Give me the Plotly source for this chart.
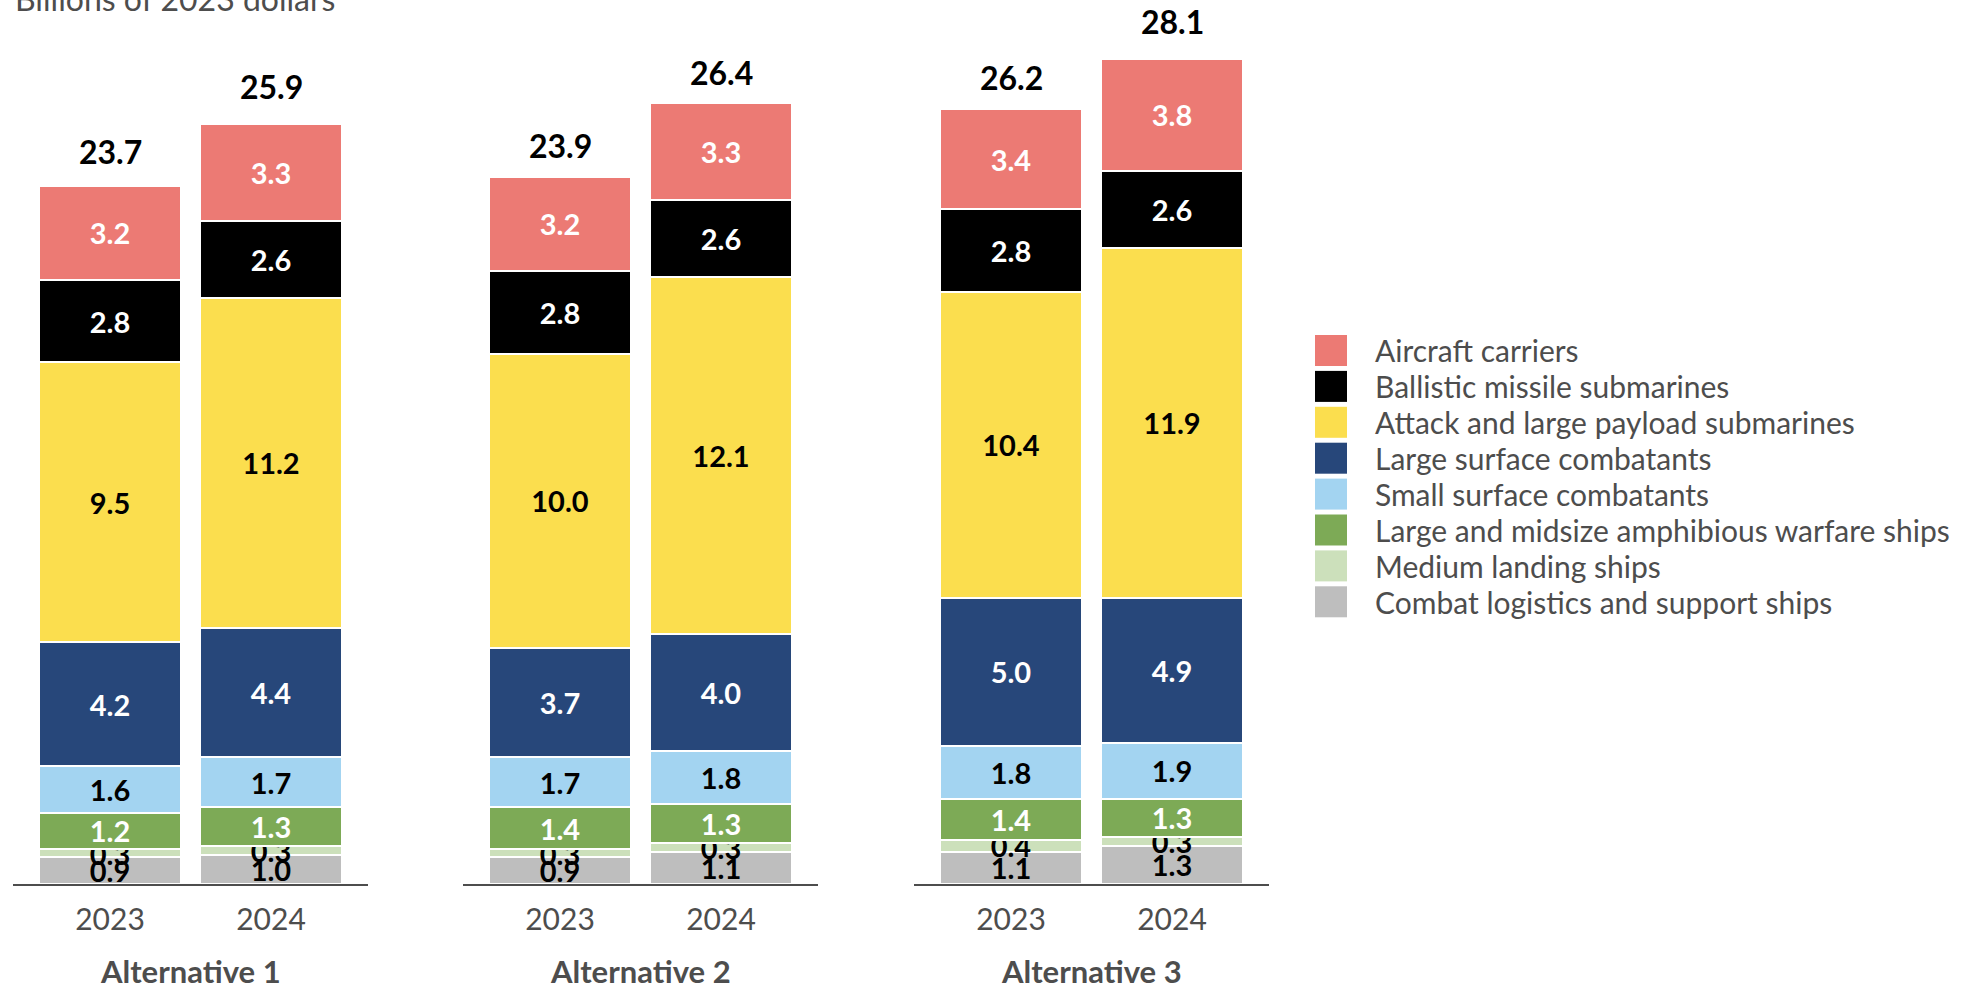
import plotly.graph_objects as go

# ---------------- data ----------------
years = ["2023", "2024"]
alternatives = ["Alternative 1", "Alternative 2", "Alternative 3"]

# stack order bottom -> top
categories = [
    "Combat logistics and support ships",
    "Medium landing ships",
    "Large and midsize amphibious warfare ships",
    "Small surface combatants",
    "Large surface combatants",
    "Attack and large payload submarines",
    "Ballistic missile submarines",
    "Aircraft carriers",
]

# values ordered: Alt1 2023, Alt1 2024, Alt2 2023, Alt2 2024, Alt3 2023, Alt3 2024
logistics = [0.9, 1.0, 0.9, 1.1, 1.1, 1.3]
medium_landing = [0.3, 0.3, 0.3, 0.3, 0.4, 0.3]
amphibious = [1.2, 1.3, 1.4, 1.3, 1.4, 1.3]
small_surface = [1.6, 1.7, 1.7, 1.8, 1.8, 1.9]
large_surface = [4.2, 4.4, 3.7, 4.0, 5.0, 4.9]
attack_subs = [9.5, 11.2, 10.0, 12.1, 10.4, 11.9]
ballistic_subs = [2.8, 2.6, 2.8, 2.6, 2.8, 2.6]
carriers = [3.2, 3.3, 3.2, 3.3, 3.4, 3.8]

totals = [23.7, 25.9, 23.9, 26.4, 26.2, 28.1]

series = [logistics, medium_landing, amphibious, small_surface,
          large_surface, attack_subs, ballistic_subs, carriers]

colors = ["#BEBEBE", "#CCE0BB", "#7DAA56", "#A3D4F1",
          "#27477A", "#FBDE4E", "#000000", "#EC7A74"]
text_colors = ["#000000", "#000000", "#FFFFFF", "#000000",
               "#FFFFFF", "#000000", "#FFFFFF", "#FFFFFF"]

# ---------------- layout constants ----------------
W, H = 1972, 990
MB = 106
PLOT_H = H - MB
FONT = "Lato, 'Open Sans', Roboto, sans-serif"
GREY = "#4d4d4d"

domains_px = [(13, 368), (463, 818), (914, 1269)]

fig = go.Figure()

for a in range(len(alternatives)):
    ax = "" if a == 0 else str(a + 1)
    for c, vals in enumerate(series):
        yv = vals[2 * a:2 * a + 2]
        fig.add_trace(go.Bar(
            x=years, y=yv, name=categories[c],
            xaxis="x" + ax, yaxis="y" + ax,
            marker=dict(color=colors[c], line=dict(color="white", width=2)),
            texttemplate="%{y:.1f}", textposition="inside",
            insidetextanchor="middle",
            textfont=dict(family=FONT, size=29, color=text_colors[c], weight=700),
            showlegend=False, hoverinfo="skip",
        ))
    for j in range(len(years)):
        fig.add_annotation(
            x=j, y=totals[2 * a + j], xref="x" + ax, yref="y" + ax,
            text=f"{totals[2 * a + j]:.1f}", showarrow=False,
            yanchor="middle", yshift=34,
            font=dict(family=FONT, size=32, color="#000000", weight=700),
        )
    d0, d1 = domains_px[a]
    fig.add_annotation(
        x=(d0 + d1) / 2 / W, y=(PLOT_H - 971) / PLOT_H, xref="paper", yref="paper",
        text=alternatives[a], showarrow=False, xanchor="center", yanchor="middle",
        borderpad=0,
        font=dict(family=FONT, size=31, color=GREY, weight=700),
    )
    xa = dict(
        domain=[d0 / W, d1 / W], type="category", range=[-0.6025, 1.6025],
        showline=True, linecolor=GREY, linewidth=2, ticks="",
        tickfont=dict(family=FONT, size=30, color=GREY),
        ticklabelstandoff=8, showgrid=False, zeroline=False,
        anchor="y" + ax, fixedrange=True,
    )
    ya = dict(range=[0, 30], visible=False, domain=[0, 1],
              anchor="x" + ax, fixedrange=True)
    fig.update_layout(**{"xaxis" + ax: xa, "yaxis" + ax: ya})

# title (unit label)
fig.add_annotation(
    x=13 / W, y=1 - 20 / PLOT_H, xref="paper", yref="paper",
    text="Billions of 2023 dollars", showarrow=False,
    xanchor="left", yanchor="bottom",
    font=dict(family=FONT, size=32, color=GREY),
)

# manual legend (top -> bottom)
LEG_X0, LEG_SW = 1315, 32
row0, row_step = 350.5, 35.9
for i, c in enumerate(reversed(range(len(categories)))):
    yc = row0 + i * row_step
    fig.add_shape(
        type="rect", xref="paper", yref="paper",
        x0=LEG_X0 / W, x1=(LEG_X0 + LEG_SW) / W,
        y0=1 - (yc - 15.5) / PLOT_H, y1=1 - (yc + 15.5) / PLOT_H,
        fillcolor=colors[c], line=dict(width=0),
    )
    fig.add_annotation(
        x=1373 / W, y=1 - yc / PLOT_H, xref="paper", yref="paper",
        text=categories[c], showarrow=False, xanchor="left", yanchor="middle",
        font=dict(family=FONT, size=30, color=GREY),
    )

fig.update_layout(
    width=W, height=H,
    margin=dict(l=0, r=0, t=0, b=MB),
    barmode="stack", bargap=0.112,
    plot_bgcolor="white", paper_bgcolor="white",
    uniformtext=dict(minsize=29, mode="show"),
    showlegend=False,
)

fig.write_html(
    "out.html",
    config={"displayModeBar": False},
    post_script="document.body.style.margin='0px';document.body.style.overflow='hidden';",
)
